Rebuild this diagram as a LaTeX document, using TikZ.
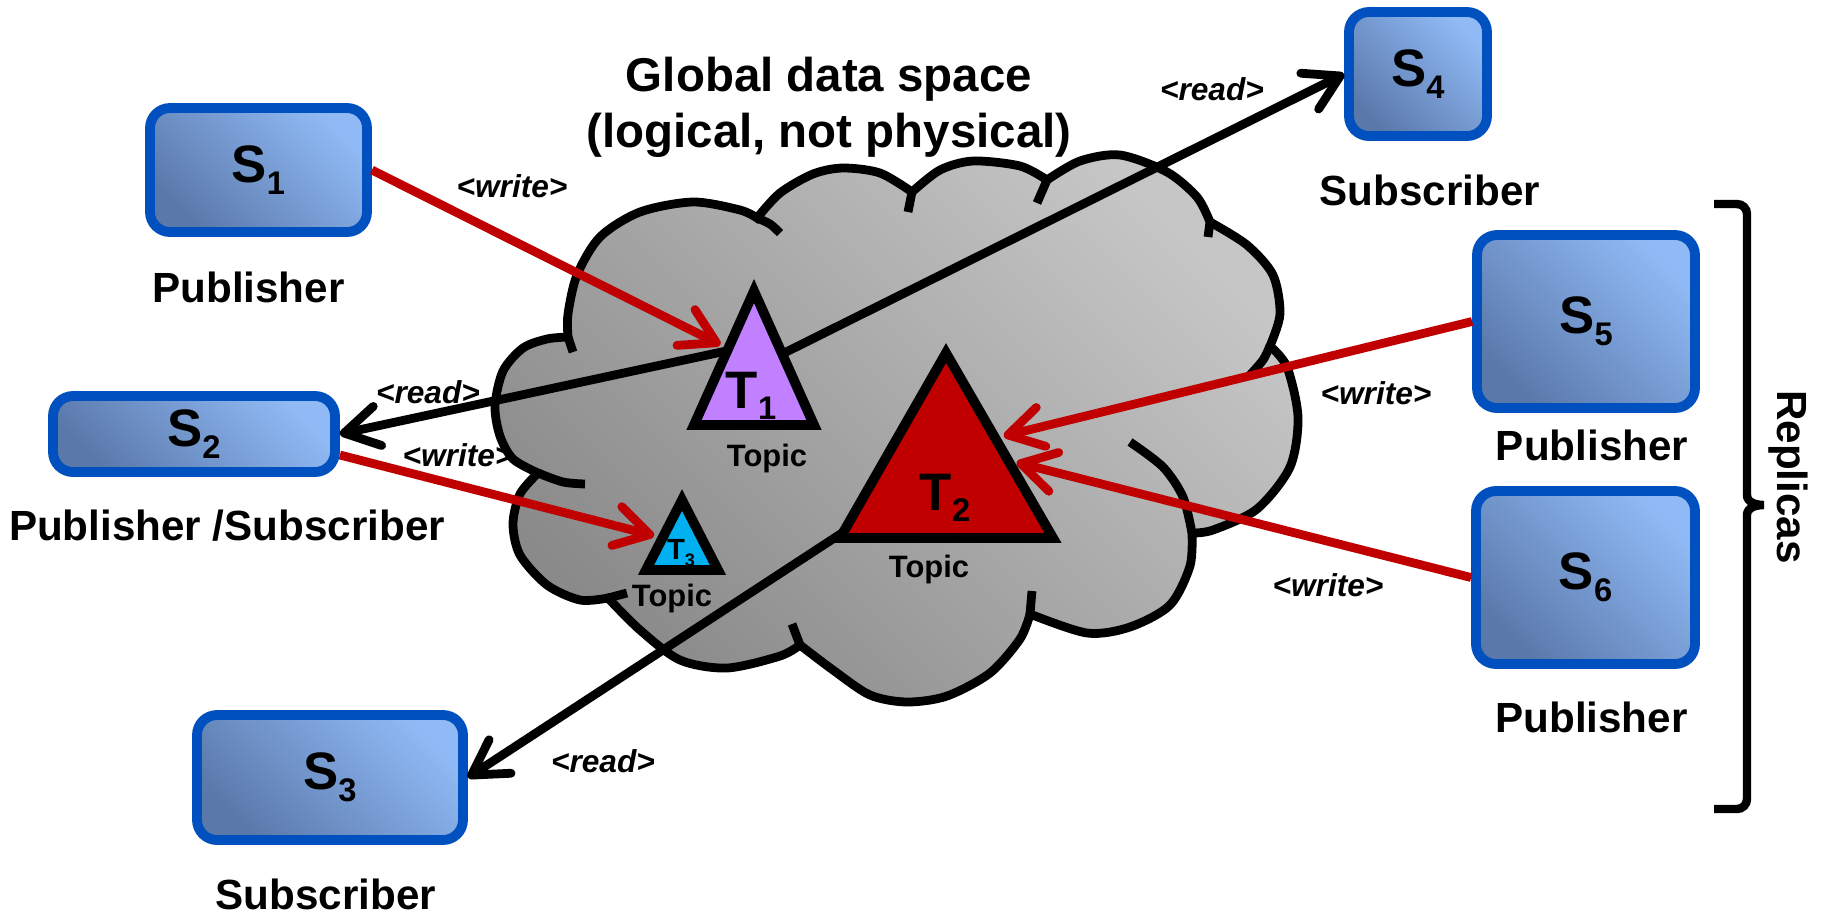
\documentclass[tikz,border=0pt]{standalone}
\usepackage{fontspec}
\setmainfont{Liberation Sans}
\usepackage{tikz}
\usetikzlibrary{positioning,calc,arrows.meta}
\definecolor{boxblue}{HTML}{0050C0}
\definecolor{boxlight}{HTML}{90BAF5}
\definecolor{boxdark}{HTML}{5A78AA}
\definecolor{cloudlight}{HTML}{C6C6C6}
\definecolor{clouddark}{HTML}{8A8A8A}
\definecolor{wred}{HTML}{C00000}
\definecolor{topicA}{HTML}{C080FF}
\definecolor{topicC}{HTML}{00B0F0}
\newcommand{\subidx}[1]{\raisebox{-.22em}{\scalebox{.62}{#1}}}

\begin{document}
\begin{tikzpicture}[
  box/.style={shape=rectangle,draw=boxblue,line width=2.8pt,rounded corners=2mm,
    top color=boxlight,bottom color=boxdark,shading angle=-45,inner sep=0pt,
    node font={\fontsize{15pt}{18pt}\selectfont\bfseries}},
  role/.style={inner sep=0pt,outer sep=0pt,node font={\fontsize{12pt}{14pt}\selectfont\bfseries}},
  lbl/.style={inner sep=0pt,node font={\fontsize{9pt}{10pt}\selectfont\bfseries\itshape}},
  topic/.style={inner sep=0pt,outer sep=0pt,node font={\fontsize{8.8pt}{10pt}\selectfont\bfseries}},
  tname/.style={inner sep=0pt,outer sep=0pt,node font={\fontsize{15pt}{18pt}\selectfont\bfseries}},
  tri/.style={draw=black,line width=2.8pt},
  gds/.style={draw=black,line width=2.5pt,top color=cloudlight,bottom color=clouddark,shading angle=-45},
  crease/.style={draw=black,line width=2.5pt},
  read/.style={line width=2.5pt,-{Straight Barb[length=3.4mm,width=4mm,round]}},
  write/.style={read,draw=wred,shorten >=2.5pt},
  bracket/.style={line width=2.4pt}]
\useasboundingbox (0,0) rectangle (18.23,-9.14);

\coordinate (T1a) at (7.54,-2.91);
\coordinate (T1l) at (6.94,-4.25);
\coordinate (T1r) at (8.14,-4.25);
\coordinate (T2a) at (9.46,-3.53);
\coordinate (T2l) at (8.40,-5.38);
\coordinate (T2r) at (10.53,-5.38);
\coordinate (T3a) at (6.82,-5.00);
\coordinate (T3l) at (6.46,-5.70);
\coordinate (T3r) at (7.18,-5.70);
\coordinate (T1w) at (7.54,-3.45);
\coordinate (T1e) at (7.54,-3.68);
\coordinate (T2c) at (9.46,-4.65);

\draw[gds] plot[smooth] coordinates {(5.38,-4.73) (5.13,-4.59) (5.00,-4.36) (4.95,-4.06) (5.03,-3.71) (5.23,-3.48) (5.47,-3.39) (5.68,-3.37)}
  --plot[smooth] coordinates {(5.68,-3.37) (5.68,-3.14) (5.77,-2.75) (6.00,-2.37) (6.40,-2.12) (6.93,-2.02) (7.40,-2.10) (7.57,-2.18)}
  --plot[smooth] coordinates {(7.57,-2.18) (7.80,-1.93) (8.13,-1.74) (8.43,-1.68) (8.80,-1.73) (9.12,-1.92)}
  --plot[smooth] coordinates {(9.12,-1.92) (9.40,-1.70) (9.73,-1.61) (10.20,-1.66) (10.47,-1.80)}
  --plot[smooth] coordinates {(10.47,-1.80) (10.80,-1.61) (11.20,-1.55) (11.67,-1.72) (11.97,-1.97) (12.10,-2.22)}
  --plot[smooth] coordinates {(12.10,-2.22) (12.47,-2.45) (12.73,-2.75) (12.80,-3.14) (12.70,-3.46)}
  --plot[smooth] coordinates {(12.70,-3.46) (12.87,-3.67) (12.98,-4.17) (12.90,-4.67) (12.57,-5.09) (12.13,-5.30) (11.92,-5.33)}
  --plot[smooth] coordinates {(11.92,-5.33) (11.90,-5.66) (11.70,-6.05) (11.30,-6.27) (10.87,-6.33) (10.30,-6.14)}
  --plot[smooth] coordinates {(10.30,-6.14) (10.20,-6.39) (9.90,-6.73) (9.47,-6.96) (9.07,-7.02) (8.70,-6.95) (8.33,-6.70) (8.00,-6.45)}
  --plot[smooth] coordinates {(8.00,-6.45) (7.80,-6.56) (7.27,-6.68) (6.80,-6.60) (6.40,-6.30) (6.08,-5.98)}
  --plot[smooth] coordinates {(6.08,-5.98) (5.80,-6.00) (5.47,-5.85) (5.20,-5.55) (5.13,-5.24) (5.20,-4.94) (5.38,-4.73)}
  -- cycle;
\draw[crease] plot[smooth] coordinates {(5.38,-4.73) (5.63,-4.82) (5.85,-4.84)}
  (5.68,-3.37) -- (5.73,-3.52)
  plot[smooth] coordinates {(7.57,-2.18) (7.70,-2.24) (7.80,-2.33)}
  (9.12,-1.92) -- (9.08,-2.12)
  (10.47,-1.80) -- (10.37,-2.03)
  (12.10,-2.22) -- (12.08,-2.37)
  plot[smooth] coordinates {(12.70,-3.46) (12.63,-3.60) (12.50,-3.75)}
  plot[smooth] coordinates {(11.92,-5.33) (11.83,-4.97) (11.63,-4.67) (11.30,-4.42)}
  (10.30,-6.14) -- (10.32,-5.91)
  (8.00,-6.45) -- (7.92,-6.24)
  (6.08,-5.98) -- (6.27,-5.93);

\node[box,minimum width=2.17cm,minimum height=1.24cm] (S1) at (2.585,-1.70) {S\subidx{1}};
\node[box,minimum width=2.82cm,minimum height=0.76cm] (S2) at (1.94,-4.34) {S\subidx{2}};
\node[box,minimum width=2.66cm,minimum height=1.25cm] (S3) at (3.30,-7.775) {S\subidx{3}};
\node[box,minimum width=1.38cm,minimum height=1.24cm] (S4) at (14.18,-0.74) {S\subidx{4}};
\node[box,minimum width=2.18cm,minimum height=1.73cm] (S5) at (15.86,-3.215) {S\subidx{5}};
\node[box,minimum width=2.19cm,minimum height=1.73cm] (S6) at (15.855,-5.775) {S\subidx{6}};

\node[role,below=0.35cm of S1,xshift=-0.1cm] (p1) {Publisher};
\node[role,below=0.33cm of S2,xshift=0.33cm] (p2) {Publisher /Subscriber};
\node[role,below=0.34cm of S3,xshift=-0.04cm] (p3) {Subscriber};
\node[role,below=0.34cm of S4,xshift=0.12cm] (p4) {Subscriber};
\node[role,below=0.17cm of S5,xshift=0.06cm] (p5) {Publisher};
\node[role,below=0.33cm of S6,xshift=0.06cm] (p6) {Publisher};

\draw[write] (S1.east) -- ($(T1a)!.43!(T1l)$);
\draw[read] (T1w) -- (S2.east);
\draw[write] ([yshift=-0.21cm]S2.east) -- ($(T3a)!.54!(T3l)$);
\draw[read] (T2c) -- (S3.east);
\draw[read] (T1e) -- (S4.west);
\draw[write] (S5.west) -- ($(T2a)!.46!(T2r)$);
\draw[write] (S6.west) -- ($(T2a)!.58!(T2r)$);

\node[lbl] (w1) at (5.12,-1.86) {<write>};
\node[lbl] (r2) at (4.28,-3.92) {<read>};
\node[lbl] (w3) at (4.58,-4.55) {<write>};
\node[lbl] (r3) at (6.03,-7.61) {<read>};
\node[lbl] (r4) at (12.12,-0.89) {<read>};
\node[lbl] (w5) at (13.76,-3.93) {<write>};
\node[lbl] (w6) at (13.28,-5.85) {<write>};

\draw[tri,fill=topicA] (T1a) -- (T1l) -- (T1r) -- cycle;
\draw[tri,fill=wred] (T2a) -- (T2l) -- (T2r) -- cycle;
\draw[tri,fill=topicC] (T3a) -- (T3l) -- (T3r) -- cycle;
\node[tname] (T1) at (7.51,-3.96) {T\subidx{1}};
\node[tname] (T2) at (9.45,-4.98) {T\subidx{2}};
\node[tname,node font={\fontsize{8.3pt}{10pt}\selectfont\bfseries}] (T3) at (6.81,-5.53) {T\subidx{3}};
\node[topic,below=0.24cm of T1,xshift=0.16cm] (c1) {Topic};
\node[topic,below=0.33cm of T2,xshift=-0.16cm] (c2) {Topic};
\node[topic,below=0.18cm of T3,xshift=-0.09cm] (c3) {Topic};

\node[inner sep=0pt,align=center,node font={\fontsize{13.5pt}{16pt}\selectfont\bfseries}] (title) at (8.29,-1.075) {Global data space\\(logical, not physical)};

\draw[bracket] (17.14,-2.04) -- (17.37,-2.04) to[out=0,in=90] (17.47,-2.14) -- (17.47,-4.95)
  to[out=-90,in=180] (17.64,-5.05) to[out=180,in=90] (17.47,-5.15) -- (17.47,-7.99)
  to[out=-90,in=0] (17.37,-8.09) -- (17.14,-8.09);
\node[role,rotate=-90] (rep) at (17.88,-4.77) {Replicas};
\end{tikzpicture}
\end{document}
